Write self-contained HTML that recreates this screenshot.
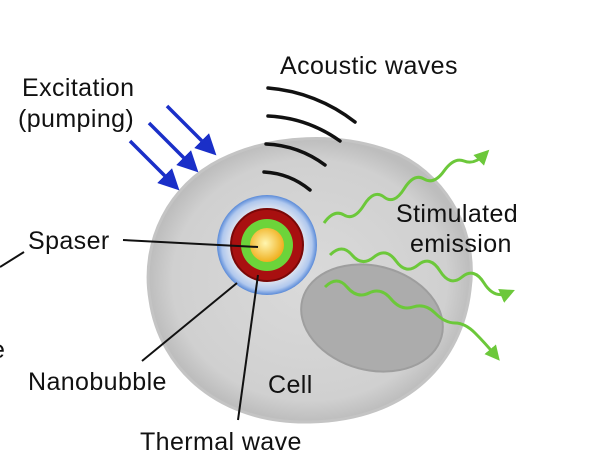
<!DOCTYPE html>
<html><head><style>
body{margin:0;background:#fff;}
svg{display:block;font-family:"Liberation Sans",sans-serif;}
</style></head><body>
<svg width="612" height="469" viewBox="0 0 612 469">
<defs>
<radialGradient id="cellg" cx="0.5" cy="0.5" r="0.5">
<stop offset="0" stop-color="#dadada"/><stop offset="0.85" stop-color="#d0d0d0"/><stop offset="1" stop-color="#bdbdbd"/>
</radialGradient>
<radialGradient id="yel" cx="0.45" cy="0.45" r="0.55">
<stop offset="0" stop-color="#fff6b0"/><stop offset="1" stop-color="#f0b020"/>
</radialGradient>
<radialGradient id="blue" cx="0.5" cy="0.5" r="0.5">
<stop offset="0.7" stop-color="#e4e8f0"/><stop offset="0.9" stop-color="#b0c8ee"/><stop offset="1" stop-color="#5a8ad8"/>
</radialGradient>
<marker id="ab" markerWidth="6" markerHeight="6" refX="3" refY="3" orient="auto" markerUnits="strokeWidth"><path d="M0,0 L6,3 L0,6 Z" fill="#1a2fc8"/></marker>
<marker id="ag" markerWidth="5" markerHeight="5" refX="2.5" refY="2.5" orient="auto" markerUnits="strokeWidth"><path d="M0,0 L5,2.5 L0,5 Z" fill="#6cc83a"/></marker>
</defs>
<path d="M150,300 C140,240 170,185 220,160 C270,135 340,130 400,155 C450,180 478,235 470,290 C462,360 410,420 310,422 C220,424 160,370 150,300 Z" fill="url(#cellg)" stroke="#c4c4c4" stroke-width="3"/>
<ellipse cx="372" cy="318" rx="72" ry="52" transform="rotate(15 372 318)" fill="#acacac" stroke="#9e9e9e" stroke-width="2"/>
<g fill="none" stroke="#111" stroke-width="3.5" stroke-linecap="round">
<path d="M268,88 A162,162 0 0 1 355,122"/>
<path d="M268,116 A135,135 0 0 1 340,141"/>
<path d="M266,144 A107,107 0 0 1 325,165"/>
<path d="M264,172 A79,79 0 0 1 310,190"/>
</g>
<g stroke="#1a2fc8" stroke-width="3.5" fill="none" marker-end="url(#ab)">
<line x1="130" y1="141" x2="172" y2="183"/>
<line x1="149" y1="123" x2="191" y2="165"/>
<line x1="167" y1="106" x2="209" y2="148"/>
</g>
<g stroke="#6cc83a" stroke-width="3" fill="none" marker-end="url(#ag)">
<path d="M324,223 q10,-14 20,-8 t20,-10 t20,-8 t20,-8 t20,-10 t20,-8 t20,-10 t20,-6"/>
<path d="M330,255 q12,-12 22,0 t22,2 t22,4 t22,4 t22,6 t22,6 t22,6 t24,10"/>
<path d="M325,287 q12,-12 22,0 t22,6 t22,6 t22,8 t22,6 t20,10 t20,10 t20,22"/>
</g>
<circle cx="267" cy="245" r="50" fill="url(#blue)"/>
<circle cx="267" cy="245" r="36" fill="#a81010" stroke="#7a0808" stroke-width="2"/>
<circle cx="267" cy="245" r="26" fill="#6cd43a"/>
<circle cx="267" cy="245" r="17" fill="url(#yel)"/>
<g stroke="#111" stroke-width="2">
<line x1="123" y1="240" x2="258" y2="247"/>
<line x1="0" y1="267" x2="24" y2="252"/>
<line x1="237" y1="283" x2="142" y2="361"/>
<line x1="258" y1="275" x2="238" y2="420"/>
</g>
<g font-size="25" fill="#111" letter-spacing="0.4">
<text x="280" y="74">Acoustic waves</text>
<text x="22" y="96">Excitation</text>
<text x="18" y="127">(pumping)</text>
<text x="28" y="249">Spaser</text>
<text x="396" y="222">Stimulated</text>
<text x="410" y="252">emission</text>
<text x="28" y="390">Nanobubble</text>
<text x="268" y="393">Cell</text>
<text x="140" y="450">Thermal wave</text>
<text x="-9" y="358">e</text>
</g>
</svg>
</body></html>
